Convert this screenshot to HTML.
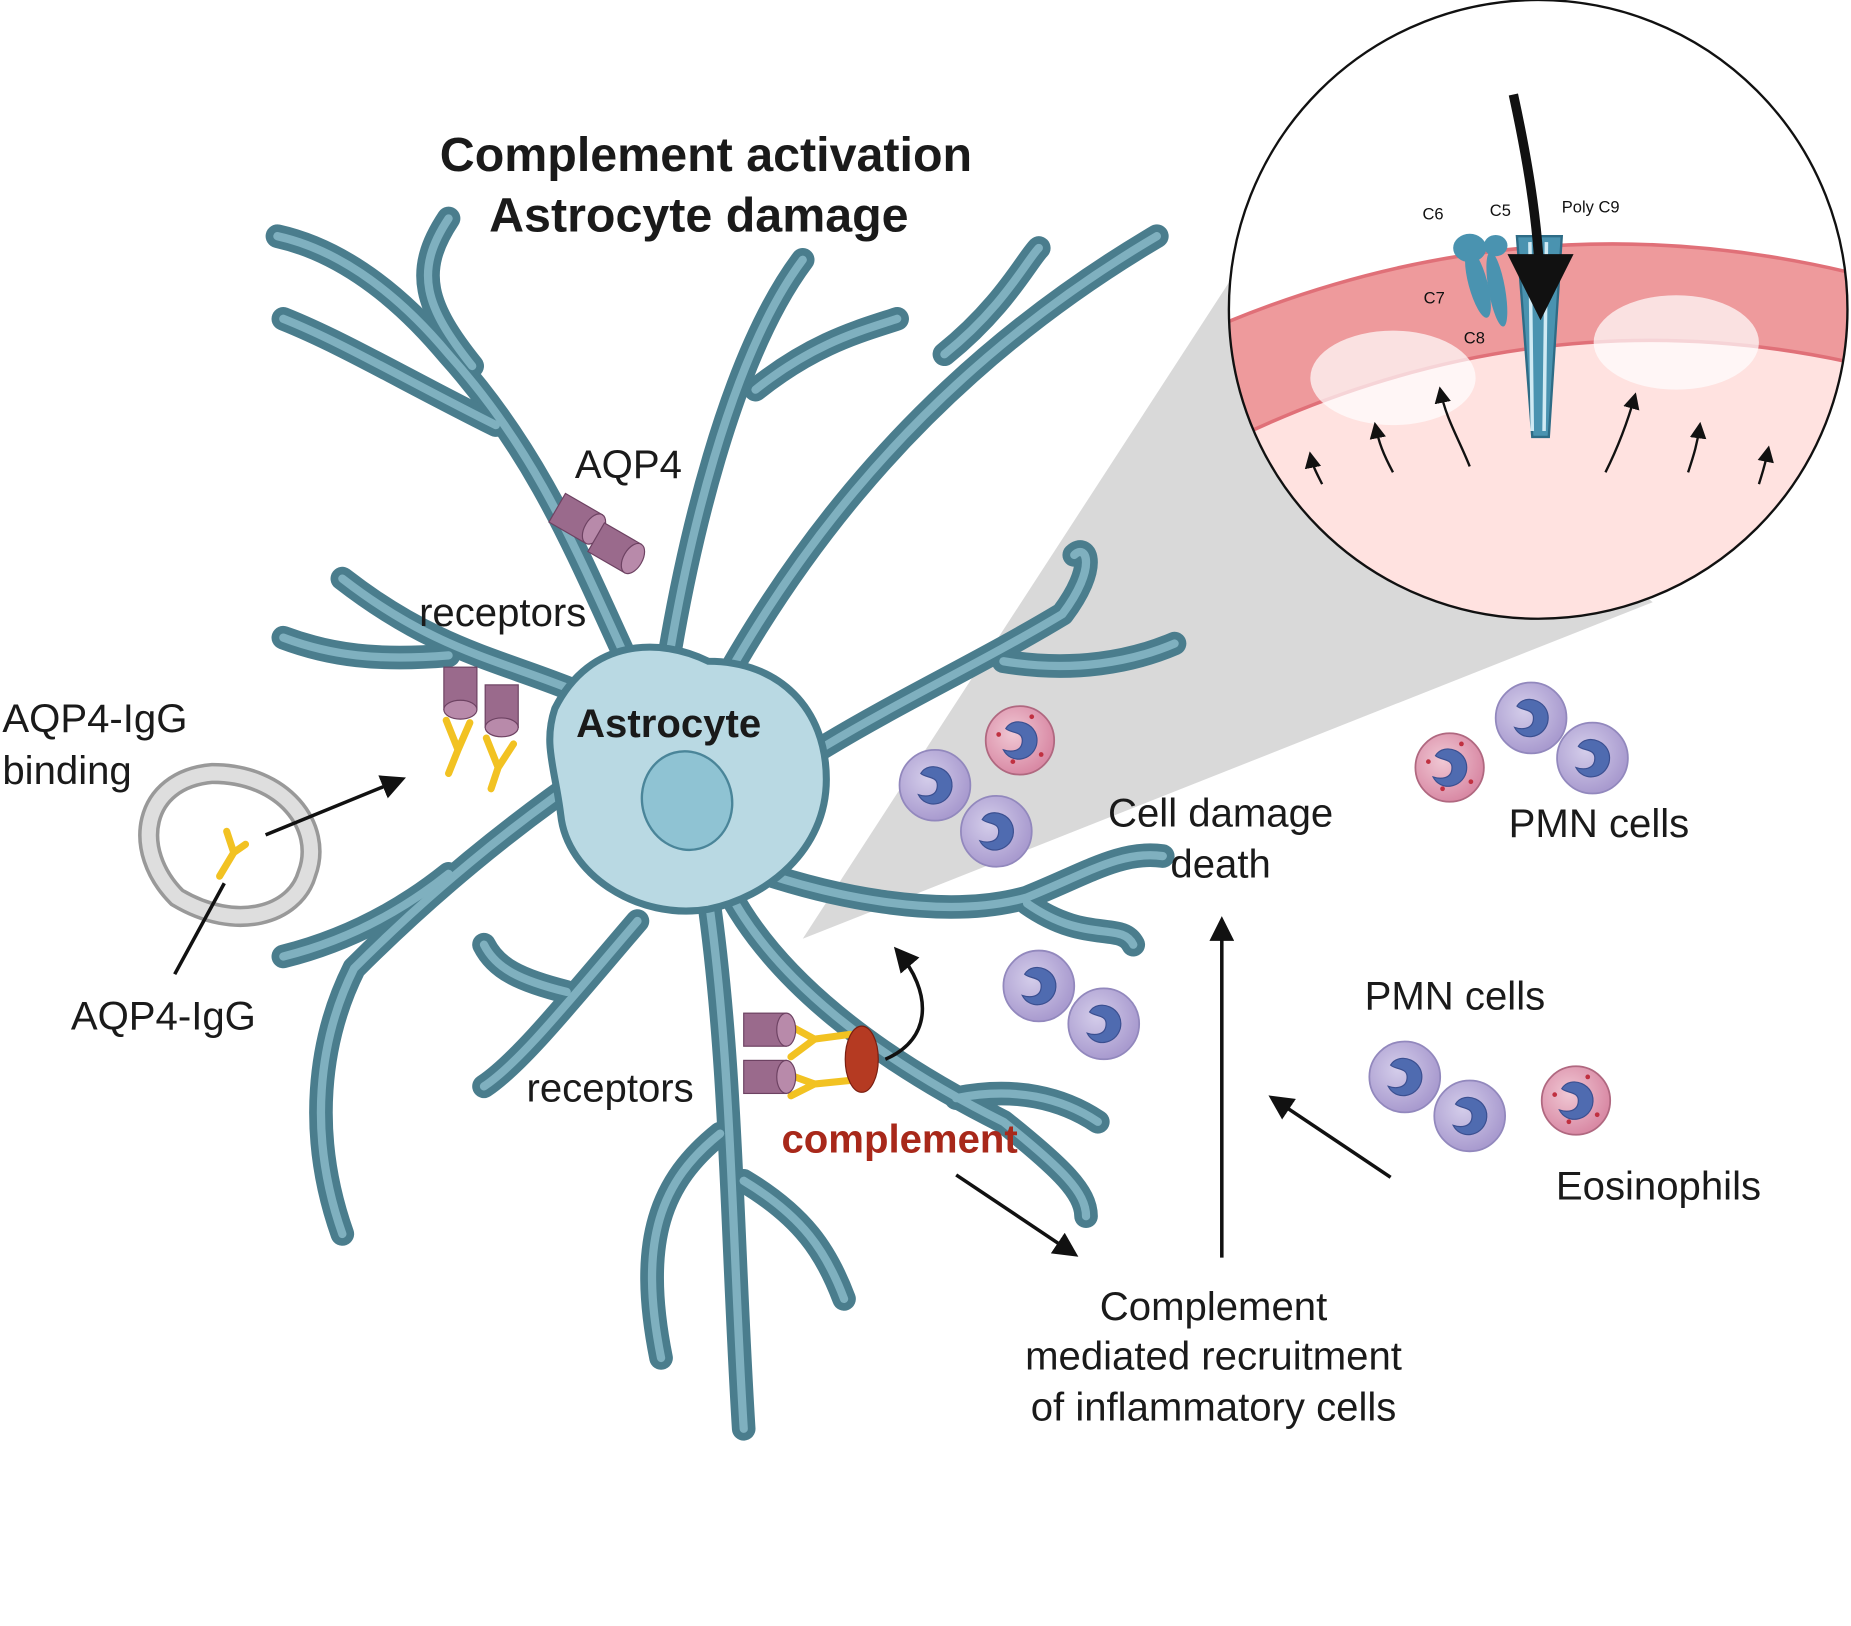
<!DOCTYPE html>
<html><head><meta charset="utf-8"><style>
html,body{margin:0;padding:0;background:#fff}
svg{display:block}
text{font-family:"Liberation Sans",Arial,sans-serif}
</style></head><body>
<svg width="1851" height="1626" viewBox="0 0 1568 1377" preserveAspectRatio="none" xmlns="http://www.w3.org/2000/svg">
<defs>
<marker id="ah" viewBox="0 0 10 10" refX="8" refY="5" markerWidth="7" markerHeight="7" orient="auto"><path d="M0,0L10,5L0,10z" fill="#111"/></marker>
<radialGradient id="cell" cx="0.4" cy="0.4" r="0.6"><stop offset="0" stop-color="#d4cdea"/><stop offset="1" stop-color="#a99bcf"/></radialGradient>
<radialGradient id="eos" cx="0.4" cy="0.4" r="0.6"><stop offset="0" stop-color="#f0c8d4"/><stop offset="1" stop-color="#d98aa5"/></radialGradient>
<clipPath id="cc"><circle cx="1303" cy="262" r="262"/></clipPath>
<g id="pmn"><circle r="30" fill="url(#cell)" stroke="#9288bd" stroke-width="1.5"/><path d="M-12,-10 C-5,-22 18,-14 14,4 C10,18 -8,20 -14,8 C-8,10 2,10 2,0 C2,-8 -8,-6 -12,-10z" fill="#4f6bb0" stroke="#3a4f90"/></g>
<g id="eo"><circle r="29" fill="url(#eos)" stroke="#b06880" stroke-width="1.5"/><path d="M-12,-10 C-5,-22 18,-14 14,4 C10,18 -8,20 -14,8 C-8,10 2,10 2,0 C2,-8 -8,-6 -12,-10z" fill="#4f6bb0" stroke="#3a4f90"/><circle cx="-18" cy="-5" r="2" fill="#c03040"/><circle cx="18" cy="12" r="2" fill="#c03040"/><circle cx="-6" cy="18" r="2" fill="#c03040"/><circle cx="10" cy="-20" r="2" fill="#c03040"/></g>
<g id="recp"><rect x="0" y="-14" width="36" height="28" fill="#9a6a8c" stroke="#6d4262"/><ellipse cx="36" cy="0" rx="8" ry="14" fill="#b88aaa" stroke="#6d4262"/></g>
<g id="br">
<path d="M560,620 C500,500 470,400 380,300 C330,240 280,210 235,200"/>
<path d="M400,310 C360,260 350,230 380,185"/>
<path d="M420,360 C340,320 290,290 240,270"/>
<path d="M560,600 C580,460 620,300 680,220"/>
<path d="M640,330 C690,290 730,280 760,270"/>
<path d="M580,640 C650,500 760,330 980,200"/>
<path d="M800,300 C850,260 870,220 880,210"/>
<path d="M520,600 C440,560 380,560 290,490"/>
<path d="M380,555 C320,560 280,555 240,540"/>
<path d="M520,640 C430,700 360,760 300,820 C270,880 260,960 290,1045"/>
<path d="M380,740 C330,780 280,800 240,810"/>
<path d="M600,700 C700,620 800,580 900,520 C930,480 920,460 910,470"/>
<path d="M850,560 C910,570 960,560 995,545"/>
<path d="M620,730 C700,760 800,780 870,760 C920,740 950,720 985,725"/>
<path d="M870,765 C920,800 950,780 960,800"/>
<path d="M610,740 C650,830 750,900 850,950 C900,990 920,1010 920,1030"/>
<path d="M810,930 C860,920 900,930 930,950"/>
<path d="M600,760 C620,900 620,1050 630,1210"/>
<path d="M610,960 C560,1000 540,1050 560,1150"/>
<path d="M630,1000 C680,1030 700,1060 715,1100"/>
<path d="M540,780 C480,850 440,900 410,920"/>
<path d="M480,840 C440,830 420,820 410,800"/>
</g>
</defs>
<rect width="1568" height="1377" fill="#fff"/>
<path d="M680,795 L1060,210 L1400,510 z" fill="#d9d9d9"/>
<g fill="none" stroke-linecap="round" stroke-linejoin="round">
<use href="#br" stroke="#4a7d8d" stroke-width="20"/>
<use href="#br" stroke="#7fb0bf" stroke-width="7"/>
</g>
<path d="M470,600 C500,540 560,540 600,560 C660,560 700,600 700,660 C700,720 650,760 600,770 C540,780 480,740 475,690 C470,650 460,630 470,600z" fill="#b9d9e3" stroke="#4a7d8d" stroke-width="6"/>
<ellipse cx="582" cy="678" rx="38" ry="42" fill="#8fc3d3" stroke="#4a8599" stroke-width="2" transform="rotate(-15 582 678)"/>
<g clip-path="url(#cc)">
<rect x="1040" y="0" width="530" height="530" fill="#fff"/>
<path d="M1000,330 Q1303,150 1620,290 L1620,600 L1000,600z" fill="#ffe2e0"/>
<path d="M1000,290 Q1303,150 1620,245 L1620,320 Q1303,230 1000,395z" fill="#ee9a9c" stroke="#e07078" stroke-width="3"/>
<ellipse cx="1180" cy="320" rx="70" ry="40" fill="#fff" opacity="0.7"/>
<ellipse cx="1420" cy="290" rx="70" ry="40" fill="#fff" opacity="0.7"/>
<path d="M1285,200 L1323,200 L1312,370 L1298,370z" fill="#4a93b0" stroke="#2e6c86" stroke-width="2"/>
<path d="M1296,205 L1298,365 M1310,205 L1308,365" stroke="#d0eaf4" stroke-width="3"/>
<ellipse cx="1245" cy="210" rx="14" ry="12" fill="#4a93b0"/><ellipse cx="1267" cy="208" rx="10" ry="9" fill="#4a93b0"/>
<ellipse cx="1252" cy="240" rx="8" ry="30" fill="#4a93b0" transform="rotate(-15 1252 240)"/>
<ellipse cx="1268" cy="245" rx="7" ry="32" fill="#4a93b0" transform="rotate(-10 1268 245)"/>
<path d="M1282,80 C1295,140 1305,200 1305,260" stroke="#111" stroke-width="8" fill="none" marker-end="url(#ah)"/>
<g stroke="#111" stroke-width="2" fill="none" marker-end="url(#ah)">
<path d="M1120,410 C1115,400 1112,395 1110,385"/><path d="M1180,400 C1172,385 1168,375 1165,360"/><path d="M1245,395 C1235,370 1225,355 1220,330"/>
<path d="M1360,400 C1370,380 1378,360 1385,335"/><path d="M1430,400 C1435,385 1438,375 1440,360"/><path d="M1490,410 C1493,400 1495,395 1498,380"/>
</g>
</g>
<circle cx="1303" cy="262" r="262" fill="none" stroke="#111" stroke-width="2"/>
<g font-size="14" fill="#111"><text x="1205" y="186">C6</text><text x="1262" y="183">C5</text><text x="1323" y="180">Poly C9</text><text x="1206" y="257">C7</text><text x="1240" y="291">C8</text></g>
<g transform="translate(472,430) rotate(30)"><use href="#recp"/></g>
<g transform="translate(505,455) rotate(30)"><use href="#recp"/></g>
<g transform="translate(390,565) rotate(90)"><use href="#recp"/></g>
<g transform="translate(425,580) rotate(90)"><use href="#recp"/></g>
<g stroke="#f2c222" stroke-width="6" fill="none" stroke-linecap="round"><path d="M378,610 L388,635 L398,612 M388,635 L380,655"/><path d="M412,625 L422,650 L435,630 M422,650 L416,668"/>
<path d="M668,868 L690,880 L720,876 M690,880 L670,895"/><path d="M668,910 L690,918 L720,915 M690,918 L670,928"/>
<path d="M192,704 L198,722 L208,715 M198,722 L186,742"/></g>
<use href="#recp" x="630" y="872"/><use href="#recp" x="630" y="912"/>
<ellipse cx="730" cy="897" rx="14" ry="28" fill="#b53a22" stroke="#7a1e10"/>
<path d="M150,760 C110,720 120,660 180,655 C240,655 275,700 260,740 C250,775 200,790 150,760z" fill="none" stroke="#999" stroke-width="18"/>
<path d="M150,760 C110,720 120,660 180,655 C240,655 275,700 260,740 C250,775 200,790 150,760z" fill="none" stroke="#dedede" stroke-width="12"/>
<use href="#pmn" x="792" y="665"/><use href="#eo" x="864" y="627"/><use href="#pmn" x="844" y="704"/>
<use href="#pmn" x="880" y="835"/><use href="#pmn" x="935" y="867"/>
<use href="#eo" x="1228" y="650"/><use href="#pmn" x="1297" y="608"/><use href="#pmn" x="1349" y="642"/>
<use href="#pmn" x="1190" y="912"/><use href="#pmn" x="1245" y="945"/><use href="#eo" x="1335" y="932"/>
<path d="M148,825 L190,748" stroke="#111" stroke-width="3"/>
<g stroke="#111" stroke-width="3" fill="none" marker-end="url(#ah)">
<path d="M225,707 L340,660"/>
<path d="M750,897 C790,880 790,840 760,805"/>
<path d="M810,995 L910,1062"/><path d="M1035,1065 L1035,780"/><path d="M1178,997 L1078,930"/>
</g>
<g fill="#1a1a1a" font-size="34">
<text x="598" y="145" text-anchor="middle" font-weight="bold" font-size="41">Complement activation</text>
<text x="592" y="196" text-anchor="middle" font-weight="bold" font-size="41">Astrocyte damage</text>
<text x="487" y="405">AQP4</text>
<text x="355" y="530">receptors</text>
<text x="488" y="624" font-weight="bold">Astrocyte</text>
<text x="2" y="620">AQP4-IgG</text><text x="2" y="664">binding</text>
<text x="60" y="872">AQP4-IgG</text>
<text x="446" y="933">receptors</text>
<text x="662" y="976" font-weight="bold" fill="#a8281a">complement</text>
<text x="1034" y="700" text-anchor="middle">Cell damage</text><text x="1034" y="743" text-anchor="middle">death</text>
<text x="1278" y="709">PMN cells</text>
<text x="1156" y="855">PMN cells</text>
<text x="1318" y="1016">Eosinophils</text>
<text x="1028" y="1118" text-anchor="middle">Complement</text>
<text x="1028" y="1160" text-anchor="middle">mediated recruitment</text>
<text x="1028" y="1203" text-anchor="middle">of inflammatory cells</text>
</g>
</svg>
</body></html>
